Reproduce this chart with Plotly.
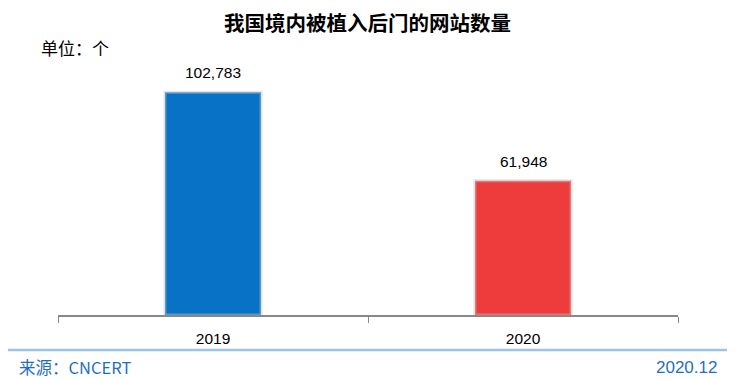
import plotly.graph_objects as go

years = ["2019", "2020"]
counts = [102783, 61948]
bar_colors = ["#0873C6", "#EE3B3B"]

# page has an 8px body margin; work in screen pixels and convert
OFF = 8
W, H = 741 - OFF, 379 - OFF
PLOT_L, PLOT_R, PLOT_T, PLOT_B = 58, 678, 55, 315  # screen pixels
ML, MR = PLOT_L - OFF, W - (PLOT_R - OFF)
MT, MB = PLOT_T - OFF, H - (PLOT_B - OFF)
PH = PLOT_B - PLOT_T
PW = PLOT_R - PLOT_L

def py(y):  # screen pixel y -> paper y
    return (PLOT_B - y) / PH

def px(x):
    return (x - PLOT_L) / PW

fig = go.Figure()
fig.add_trace(go.Bar(
    x=years, y=counts,
    width=0.31,
    marker=dict(color=bar_colors, line=dict(color="rgba(200,200,200,0.45)", width=3)),
    hoverinfo="x+y",
))

annos = [
    dict(text="<b>我国境内被植入后门的网站数量</b>", xref="paper", yref="paper",
         x=px(367), y=py(22), xanchor="center", yanchor="middle", showarrow=False,
         borderpad=0,
         font=dict(size=20.5, color="#000000", family="Noto Sans CJK SC, sans-serif")),
    dict(text="单位：个", xref="paper", yref="paper",
         x=px(39), y=py(47), xanchor="left", yanchor="middle", showarrow=False,
         font=dict(size=17, color="#000000", family="Noto Sans CJK SC, sans-serif")),
    dict(text="来源：CNCERT", xref="paper", yref="paper",
         x=px(17), y=py(367), xanchor="left", yanchor="middle", showarrow=False,
         font=dict(size=16.5, color="#1F6FBF", family="Noto Sans CJK SC, sans-serif")),
    dict(text="2020.12", xref="paper", yref="paper",
         x=px(719), y=py(367), xanchor="right", yanchor="middle", showarrow=False,
         font=dict(size=17, color="#1F6FBF", family="Liberation Sans, Arial, sans-serif")),
]
for i, c in enumerate(counts):
    annos.append(dict(text=f"{c:,}", x=i, y=c, xref="x", yref="y",
                      xanchor="center", yanchor="bottom", yshift=9, showarrow=False,
                      font=dict(size=15.5, color="#000000", family="Liberation Sans, Arial, sans-serif")))

fig.update_layout(
    width=W, height=H,
    margin=dict(l=ML, r=MR, t=MT, b=MB, autoexpand=False),
    plot_bgcolor="white", paper_bgcolor="white",
    showlegend=False,
    font=dict(family="Liberation Sans, Noto Sans CJK SC, sans-serif"),
    xaxis=dict(
        type="category", tickson="boundaries", ticks="outside", ticklen=6,
        tickcolor="#888888", showline=True, linecolor="#888888", linewidth=1.5,
        tickfont=dict(size=15.5, color="#000000"), showgrid=False,
        ticklabelstandoff=9,
    ),
    yaxis=dict(range=[0, 120000], visible=False, showgrid=False),
    annotations=annos,
    shapes=[
        dict(type="line", xref="paper", yref="paper", x0=px(0), x1=px(727),
             y0=py(350), y1=py(350), line=dict(color="#9DC3E6", width=2.5)),
    ],
)

fig.write_html("out.html", config={"displayModeBar": False})
